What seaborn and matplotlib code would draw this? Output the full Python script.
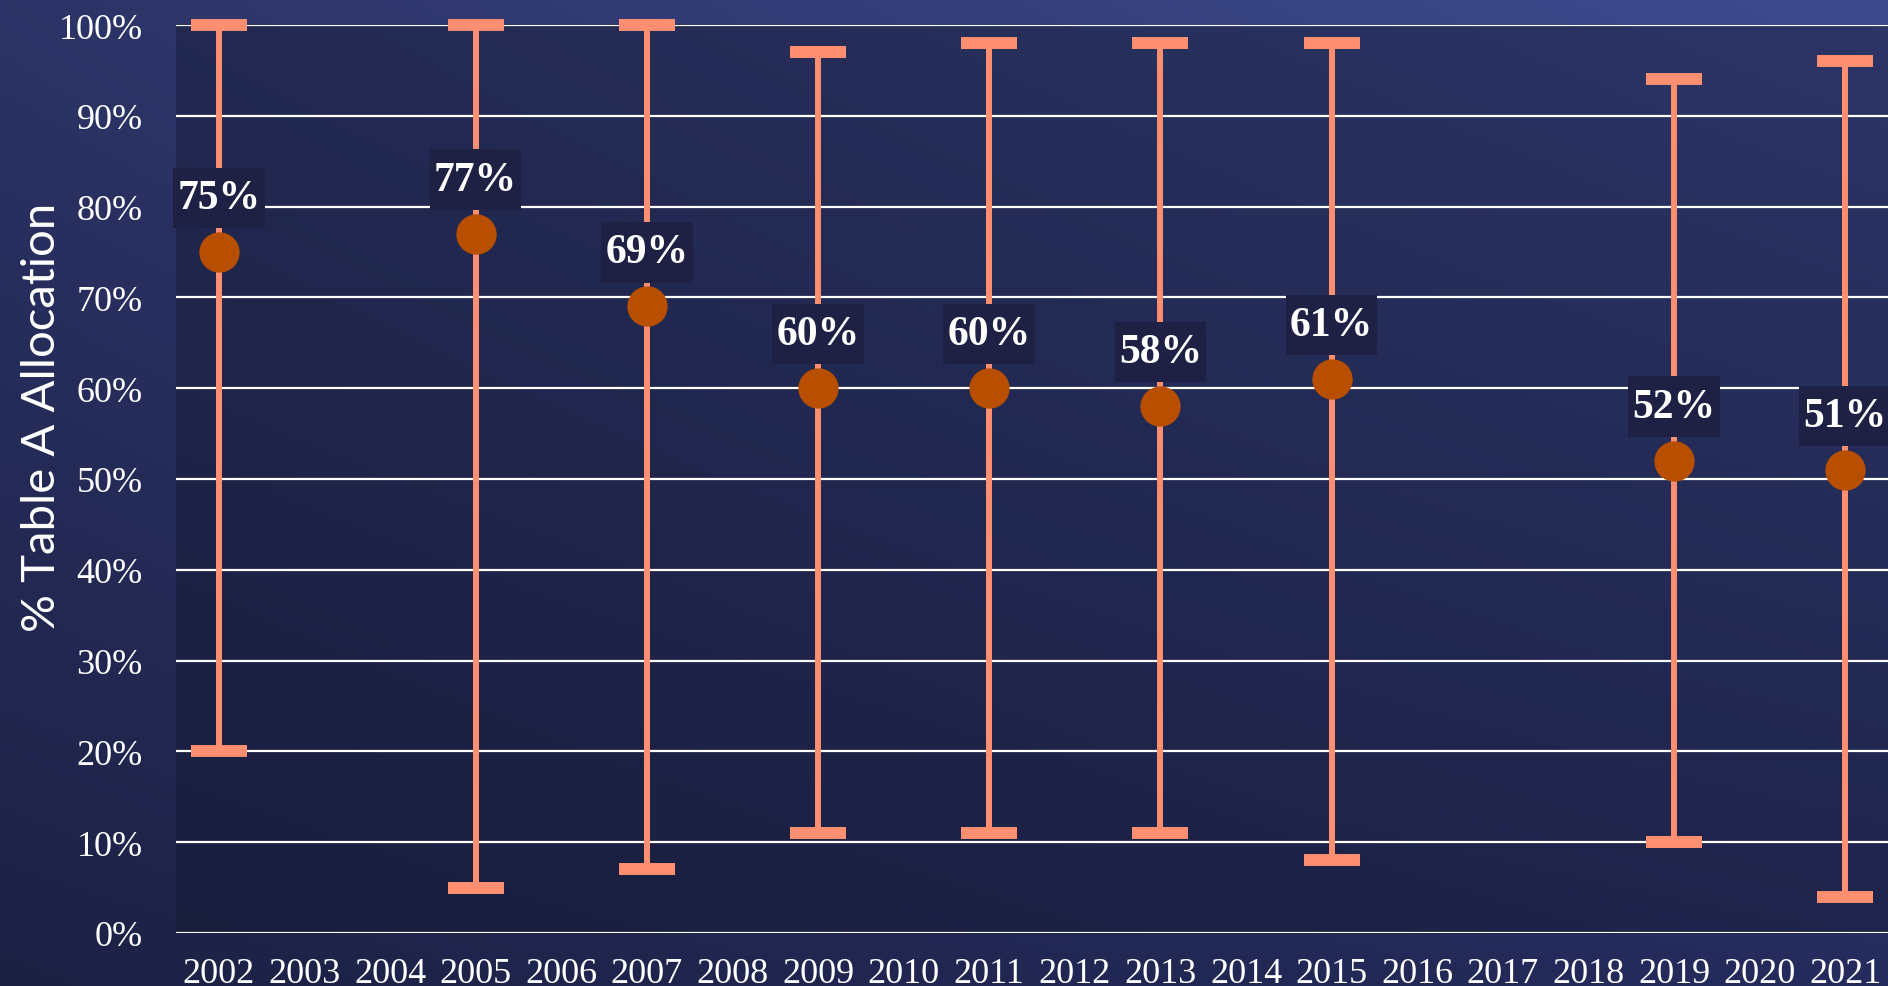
import numpy as np
import pandas as pd
import matplotlib
matplotlib.use("Agg")
import matplotlib.pyplot as plt
from matplotlib.path import Path
import seaborn as sns

# --- data -------------------------------------------------------------
all_years = [str(y) for y in range(2002, 2022)]
years = ["2002", "2005", "2007", "2009", "2011", "2013", "2015", "2019", "2021"]
mean_alloc = [75, 77, 69, 60, 60, 58, 61, 52, 51]
high_alloc = [100, 100, 100, 97, 98, 98, 98, 94, 96]
low_alloc = [20, 5, 7, 11, 11, 11, 8, 10, 4]
y_ticks = [0, 10, 20, 30, 40, 50, 60, 70, 80, 90, 100]
y_label = "% Table A Allocation"

df = pd.DataFrame({"year": years, "mean": mean_alloc,
                   "high": high_alloc, "low": low_alloc})

# --- style ------------------------------------------------------------
sns.set_theme(style="white")
plt.rcParams["font.family"] = ["Liberation Serif", "DejaVu Serif"]

BAR = "#ff8f70"
DOT = "#b84f00"
BOX = "#1e2044"
TXT = "#ffffff"


def label_box(x0, y0, width, height, mutation_size):
    """Rectangular tag with more vertical than horizontal padding."""
    px = 0.10 * mutation_size
    py = 0.27 * mutation_size
    x0, x1 = x0 - px, x0 + width + px
    y0, y1 = y0 - py, y0 + height + py
    return Path([(x0, y0), (x1, y0), (x1, y1), (x0, y1), (x0, y0)],
                closed=True)


fig = plt.figure(figsize=(18.88, 9.87), dpi=100)

# gradient backdrop: darker bottom-left, brighter top-right
bg = fig.add_axes([0, 0, 1, 1], zorder=-10)
bg.set_axis_off()
tl = np.array([0x2c, 0x33, 0x66]) / 255
tr = np.array([0x3e, 0x4b, 0x8f]) / 255
bl = np.array([0x1c, 0x21, 0x44]) / 255
br = np.array([0x25, 0x2c, 0x5d]) / 255
gy, gx = np.mgrid[0:1:200j, 0:1:300j]
gx = gx[..., None]
gy = gy[..., None]
grad = (tl * (1 - gx) * (1 - gy) + tr * gx * (1 - gy)
        + bl * (1 - gx) * gy + br * gx * gy)
bg.imshow(grad, aspect="auto", extent=[0, 1, 0, 1], interpolation="bilinear")

ax = fig.add_axes([176 / 1888, 53 / 987, 1 - 176 / 1888, (934 - 26) / 987])
ax.set_facecolor((0x14 / 255, 0x18 / 255, 0x30 / 255, 0.42))

pos = {y: i for i, y in enumerate(all_years)}
xs = [pos[y] for y in years]

# range bars
eb = ax.errorbar(xs, df["mean"],
                 yerr=[df["mean"] - df["low"], df["high"] - df["mean"]],
                 fmt="none", ecolor=BAR, elinewidth=4.3, capsize=20,
                 capthick=8.6, zorder=3)
for child in eb.get_children():
    child.set_clip_on(False)

# mean points
sns.stripplot(data=df, x="year", y="mean", order=all_years, jitter=False,
              size=29, color=DOT, linewidth=0, zorder=4, ax=ax)

# value labels
for x, v in zip(xs, mean_alloc):
    ax.annotate(f"{v}%", (x, v), xytext=(0, 39), textcoords="offset points",
                ha="center", va="center", fontsize=30, fontweight="bold",
                color=TXT, zorder=6,
                bbox=dict(boxstyle=label_box, fc=BOX, ec="none"))

ax.set_xlim(-0.5, len(all_years) - 0.5)
ax.set_ylim(0, 100)
ax.set_yticks(y_ticks)
ax.set_yticklabels([f"{t}%" for t in y_ticks])
ax.set_xticks(range(len(all_years)))
ax.set_xticklabels(all_years)
ax.grid(axis="y", color="white", linewidth=1.6)
ax.grid(axis="x", visible=False)
ax.set_axisbelow(True)
for s in ax.spines.values():
    s.set_visible(False)
ax.tick_params(axis="y", length=0, pad=24, labelsize=26, labelcolor=TXT)
ax.tick_params(axis="x", length=0, pad=17, labelsize=26, labelcolor=TXT)

ax.set_xlabel("")
ax.set_ylabel(y_label, family=["Lato", "DejaVu Sans"], fontsize=34,
              color=TXT, fontweight="normal")
ax.yaxis.set_label_coords(-0.066, 0.569)

fig.savefig("out.png", dpi=100)
